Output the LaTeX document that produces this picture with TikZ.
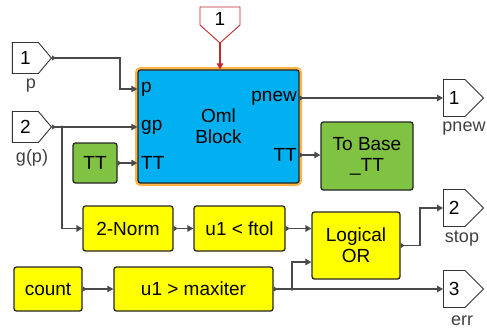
\documentclass[tikz,border=0pt]{standalone}
\usepackage{fontspec}
\setmainfont{Liberation Sans}
\usetikzlibrary{shapes.symbols,arrows.meta}
\definecolor{wirec}{HTML}{4A4A4A}
\definecolor{bluefill}{HTML}{00B0F0}
\definecolor{greenfill}{HTML}{80C342}
\definecolor{yellowfill}{HTML}{FFFF00}
\definecolor{glow}{HTML}{FFB347}
\definecolor{redport}{HTML}{C0282D}
\definecolor{labgray}{HTML}{404040}
\tikzset{
  blk/.style={draw=black!85, line width=1.3pt, rounded corners=2.5pt, inner sep=0pt,
    font=\fontsize{19}{21}\selectfont, align=center},
  yblk/.style={blk, fill=yellowfill},
  gblk/.style={blk, fill=greenfill},
  portio/.style={signal, signal to=east, draw=black!80, line width=0.9pt, fill=white,
    minimum width=40pt, minimum height=37pt, inner sep=0pt,
    font=\fontsize{19}{21}\selectfont},
  plab/.style={font=\fontsize{18}{20}\selectfont, text=labgray, inner sep=0pt},
  portlab/.style={font=\fontsize{19}{21}\selectfont, inner sep=0pt},
  wire/.style={draw=wirec, line width=1.3pt,
    {Triangle[reversed,length=4pt,width=5pt]}-{Triangle[length=6pt,width=6.5pt]}},
  plainwire/.style={draw=wirec, line width=1.3pt, -{Triangle[length=6pt,width=6.5pt]}},
  junct/.style={circle, fill=wirec, inner sep=0pt, minimum size=3.5pt},
}
\begin{document}
\begin{tikzpicture}[x=1pt,y=-1pt]
\useasboundingbox (0,0) rectangle (487,333);
% inports
\node[portio, anchor=east, minimum width=39pt, minimum height=31pt, signal pointer angle=100] (inP) at (52,58) {1\hspace{7pt}};
\node[plab] (labP) at (31,86) {p};
\node[portio, anchor=east, minimum width=39pt, minimum height=31pt, signal pointer angle=100] (inG) at (52,127) {2\hspace{7pt}};
\node[plab] (labG) at (32,158) {g(p)};
% top red inport
\draw[draw=redport, line width=0.9pt, fill=white] (200,7) -- (240,7) -- (240,25) -- (220,43) -- (200,25) -- cycle;
\node[font=\fontsize{19}{21}\selectfont, inner sep=0pt] (inTop) at (220,19) {1};
\coordinate (inTopTip) at (220,43);
% Oml block
\draw[glow, line width=3pt, rounded corners=4pt] (136.5,68.5) rectangle (300.5,184.5);
\node[blk, fill=bluefill, minimum width=161pt, minimum height=113pt] (oml) at (218.5,126.5) {Oml\\Block};
\node[portlab, anchor=west] (pp) at (141,89) {p};
\node[portlab, anchor=west] (pgp) at (141,127) {gp};
\node[portlab, anchor=west] (ptt) at (141,163) {TT};
\node[portlab, anchor=east] (ppnew) at (297,98) {pnew};
\node[portlab, anchor=east] (pttout) at (297,155) {TT};
% other blocks
\node[gblk, minimum width=44pt, minimum height=40pt] (tt) at (95,163) {TT};
\node[gblk, minimum width=92pt, minimum height=68pt] (tobase) at (367,156) {To Base\\\_TT};
\node[yblk, minimum width=90pt, minimum height=45pt] (norm) at (128,228.5) {2-Norm};
\node[yblk, minimum width=91pt, minimum height=45pt] (ftol) at (239.5,228.5) {u1 {\textless} ftol};
\node[yblk, minimum width=88pt, minimum height=67pt] (or) at (356,245.5) {Logical\\OR};
\node[yblk, minimum width=68pt, minimum height=44pt] (count) at (48,289) {count};
\node[yblk, minimum width=159pt, minimum height=44pt] (maxiter) at (193.5,289) {u1 {\textgreater} maxiter};
% outports
\node[portio, anchor=west] (outP) at (443,98) {1\hspace{8pt}};
\node[plab] (labPn) at (464,129) {pnew};
\node[portio, anchor=west] (outS) at (443,208) {2\hspace{8pt}};
\node[plab] (labS) at (462,239) {stop};
\node[portio, anchor=west] (outE) at (443,289) {3\hspace{8pt}};
\node[plab] (labE) at (462,321) {err};
% junctions
\coordinate (jg) at (62,127);
\coordinate (jm) at (292,289);
\node[junct] (jgd) at (jg) {};
\node[junct] (jmd) at (jm) {};
% wires
\draw[wire] (inP.east) -- (120,58) |- (oml.west |- pp);
\draw[wire] (inG.east) -- (oml.west |- pgp);
\draw[plainwire] (jgd.center) |- (norm.west);
\draw[wire] (tt.east) -- (oml.west |- ptt);
\draw[draw=redport, line width=1.3pt, -{Triangle[length=6pt,width=6.5pt]}] (inTopTip) -- (oml.north -| inTopTip);
\draw[wire] (oml.east |- ppnew) -- (outP.west);
\draw[wire] (oml.east |- pttout) -- (tobase.west |- pttout);
\draw[wire] (norm.east) -- (ftol.west);
\draw[wire] (ftol.east) -- (or.west |- ftol.east);
\draw[wire] (or.east) -- (420,245.5) |- (outS.west);
\draw[wire] (count.east) -- (maxiter.west);
\draw[wire] (maxiter.east) -- (outE.west);
\draw[plainwire] (jmd.center) |- (or.west |- 0,262);
\end{tikzpicture}
\end{document}
